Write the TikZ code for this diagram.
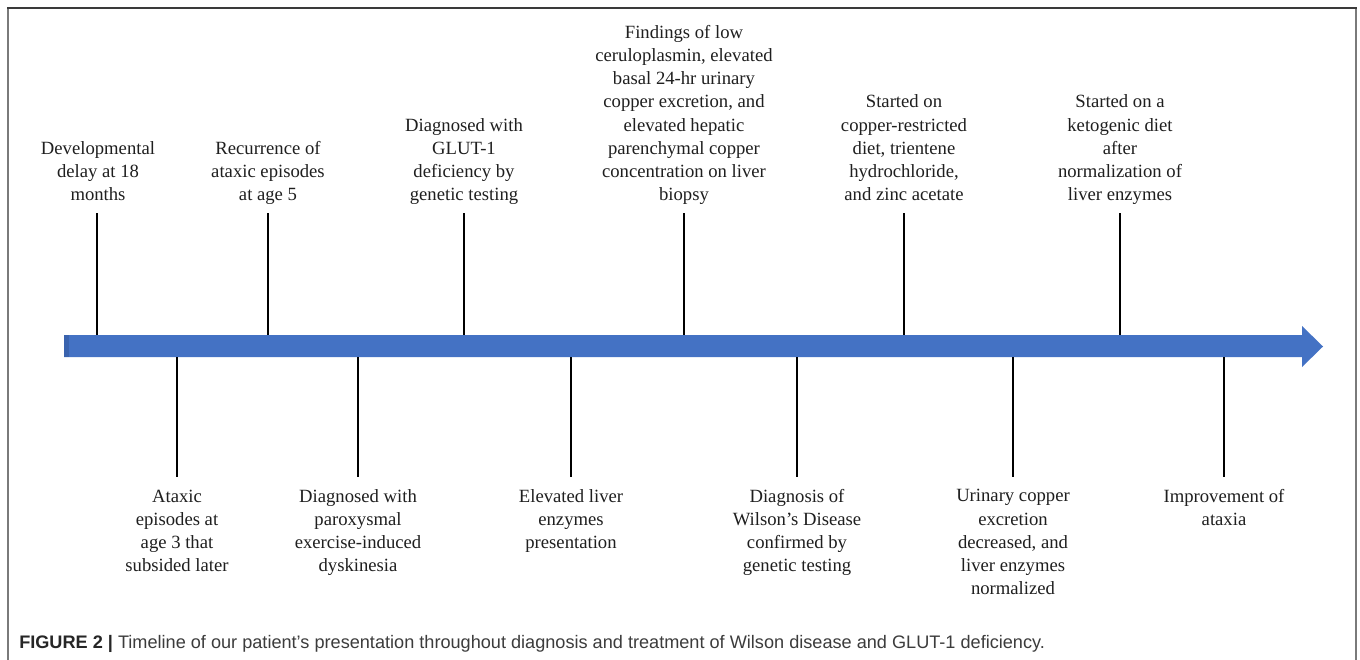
\documentclass[tikz,border=0pt]{standalone}
\usepackage{fontspec}
\setmainfont{Liberation Serif}
\newfontfamily\capfont{Liberation Sans}
\definecolor{arrowblue}{HTML}{4472C4}
\definecolor{stripblue}{HTML}{3A63AE}
\definecolor{framegray}{HTML}{7A7A7A}
\definecolor{frametop}{HTML}{3A3A3A}
\definecolor{captext}{HTML}{3C3C3C}
\begin{document}
\begin{tikzpicture}[x=0.75pt,y=-0.75pt,
  lbl/.style={font=\fontsize{14}{17.4}\selectfont, align=center, inner sep=0pt, text depth=0pt, anchor=south, text=black!88},
  tick/.style={draw=black, line width=1.5pt}]
\useasboundingbox (0,0) rectangle (1360,660);
\fill[white] (0,0) rectangle (1360,660);
% frame
\draw[framegray, line width=1.5pt] (8,660) -- (8,8);
\draw[framegray, line width=1.5pt] (1356,8) -- (1356,660);
\draw[frametop, line width=1.5pt] (7.3,8) -- (1356.7,8);
% arrow
\fill[arrowblue] (64,335) -- (1302,335) -- (1302,326) -- (1323,346.5) -- (1302,367) -- (1302,357) -- (64,357) -- cycle;
\fill[stripblue] (64,335) rectangle (69,357);
% points on arrow
\foreach \n/\x in {a1/97,a2/268,a3/464,a4/684,a5/904,a6/1120}{\coordinate (\n) at (\x,335);}
\foreach \n/\x in {b1/177,b2/358,b3/571,b4/797,b5/1013,b6/1224}{\coordinate (\n) at (\x,357);\coordinate (e\n) at (\x,477);}
% top labels
\node[lbl] (l1) at (98,201) {Developmental\\delay at 18\\months};
\node[lbl] (l2) at (268,201) {Recurrence of\\ataxic episodes\\at age 5};
\node[lbl] (l3) at (464,201) {Diagnosed with\\GLUT-1\\deficiency by\\genetic testing};
\node[lbl] (l4) at (684,201) {Findings of low\\ceruloplasmin, elevated\\basal 24-hr urinary\\copper excretion, and\\elevated hepatic\\parenchymal copper\\concentration on liver\\biopsy};
\node[lbl] (l5) at (904,201) {Started on\\copper-restricted\\diet, trientene\\hydrochloride,\\and zinc acetate};
\node[lbl] (l6) at (1120,201) {Started on a\\ketogenic diet\\after\\normalization of\\liver enzymes};
% bottom labels
\node[lbl] (m1) at (177,572) {Ataxic\\episodes at\\age 3 that\\subsided later};
\node[lbl] (m2) at (358,572) {Diagnosed with\\paroxysmal\\exercise-induced\\dyskinesia};
\node[lbl] (m3) at (571,549) {Elevated liver\\enzymes\\presentation};
\node[lbl] (m4) at (797,572) {Diagnosis of\\Wilson’s Disease\\confirmed by\\genetic testing};
\node[lbl] (m5) at (1013,595) {Urinary copper\\excretion\\decreased, and\\liver enzymes\\normalized};
\node[lbl] (m6) at (1224,526) {Improvement of\\ataxia};
% ticks
\foreach \i in {1,...,6}{\draw[tick] ([yshift=-9pt]l\i.south -| a\i) -- (a\i);}
\foreach \i in {1,...,6}{\draw[tick] (b\i) -- (eb\i);}
% caption
\node[anchor=base west, inner sep=0pt, font=\capfont\fontsize{13.6}{15}\selectfont, text=captext] (cap) at (19,648)
  {\textbf{\color{black!85}FIGURE 2 |} Timeline of our patient’s presentation throughout diagnosis and treatment of Wilson disease and GLUT-1 deficiency.};
\end{tikzpicture}
\end{document}
